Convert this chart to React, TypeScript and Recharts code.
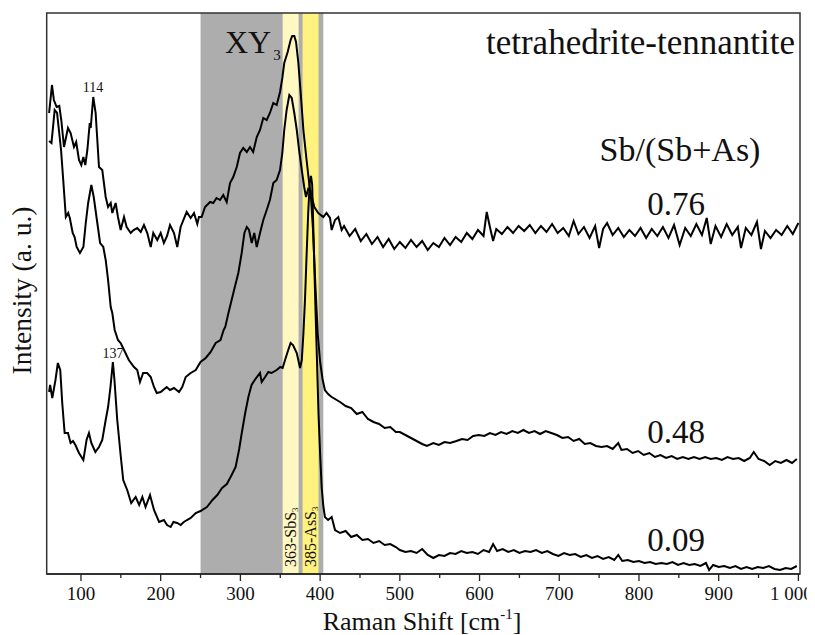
import React from 'react';
import { LineChart, Line, XAxis, YAxis, ReferenceArea } from 'recharts';

// Raman spectra, tetrahedrite-tennantite series (intensity in arbitrary units, offset stacked)
const spectrum076: [number, number][] = [
  [60, 461], [63.6, 489], [66, 474], [69.5, 467], [72.8, 468], [75.3, 454], [78.7, 427], [83.7, 446],
  [87, 441], [91.2, 427], [94, 432], [97.5, 414], [100.4, 409], [103, 417], [105.4, 409], [108, 424],
  [111, 451], [112.2, 446], [115.4, 477], [118.4, 461], [122.6, 407], [126.7, 404], [131, 377], [134, 367],
  [137.3, 371], [139.3, 361], [143.5, 371], [146.4, 357], [149.8, 344], [154, 357], [157.3, 347], [162.4, 341],
  [166, 344], [170.6, 346], [175, 342], [179, 349], [183.2, 341], [187.5, 327], [190.7, 341], [195.7, 334],
  [200, 341], [204, 331], [208, 338], [211.7, 349], [216.7, 341], [220.8, 327], [225, 347], [232.6, 362],
  [237.6, 356], [241.8, 361], [245.9, 350], [248, 357], [251.4, 357], [255.6, 367], [262, 372], [266, 371],
  [270, 376], [274.4, 374], [278.5, 379], [282.8, 372], [287, 391], [291, 397], [295.4, 407], [299.5, 421],
  [303.6, 426], [308, 422], [312, 427], [316, 422], [320.5, 437], [324.6, 444], [328.7, 456], [333, 454],
  [337, 461], [341.3, 471], [345.5, 469], [349.7, 482], [352.6, 496], [355, 511], [359.3, 522], [363, 534],
  [365, 538], [367.6, 538], [369.8, 532], [372.7, 511], [376, 477], [379, 444], [383, 414], [387.3, 384],
  [392.7, 367], [397.7, 361], [404, 357], [408, 361], [412.4, 356], [414.5, 344], [418.7, 354], [422.8, 357],
  [427, 344], [430, 348], [437, 338], [444, 345], [451, 333], [458, 340], [465, 330], [472, 337],
  [479, 327], [486, 335], [493, 325], [500, 332], [507, 326], [514, 334], [521, 327], [528, 333],
  [535, 324], [542, 331], [549, 327], [556, 336], [563, 329], [570, 337], [577, 332], [584, 341],
  [591, 335], [598, 344], [605, 338], [609, 362], [613, 347], [617, 333], [621, 345], [628, 340],
  [635, 347], [642, 341], [649, 348], [656, 343], [663, 349], [670, 341], [677, 348], [684, 342],
  [691, 350], [698, 341], [705, 346], [712, 338], [718, 353], [724, 340], [731, 347], [738, 336],
  [745, 348], [750, 326], [755, 345], [760, 351], [767, 339], [774, 346], [781, 337], [788, 344],
  [795, 338], [802, 346], [809, 336], [816, 345], [823, 338], [830, 347], [837, 336], [844, 349],
  [851, 329], [858, 346], [865, 338], [872, 350], [879, 339], [885, 356], [890, 330], [896, 348],
  [903, 337], [910, 350], [917, 339], [924, 347], [928, 326], [934, 346], [941, 339], [948, 352],
  [953, 325], [958, 343], [965, 336], [972, 344], [979, 339], [986, 348], [993, 340], [1000, 351],
];

const spectrum048: [number, number][] = [
  [60, 433], [63, 431], [67, 464], [70, 461], [75, 424], [78, 391], [81, 357], [84, 361],
  [86, 356], [89.6, 341], [92, 337], [94.6, 327], [98.7, 321], [103, 327], [106, 351], [109, 371],
  [113, 389], [116, 377], [120.5, 351], [124, 331], [128, 327], [131, 314], [134, 294], [137.3, 267],
  [139.3, 261], [142.3, 244], [146.4, 234], [149.8, 231], [154, 224], [160, 214], [166.5, 207], [170.6, 204],
  [174, 192], [178, 201], [183, 201], [187.5, 197], [191.6, 187], [195, 181], [200, 182], [207.5, 187],
  [211.7, 184], [216.7, 186], [223, 182], [227, 187], [231.4, 197], [237.6, 201], [244, 204], [250, 212],
  [256.5, 216], [262.7, 222], [269, 231], [275, 234], [279, 244], [281, 247], [285, 261], [289, 274],
  [293, 287], [297.4, 301], [301.6, 321], [305, 341], [308, 347], [310.8, 344], [314.2, 331], [317.4, 341],
  [320.5, 327], [324.6, 341], [328.7, 354], [333, 364], [337, 374], [341.3, 391], [345.5, 394], [349.7, 404],
  [352.6, 421], [355, 444], [358, 464], [361.4, 479], [364.4, 476], [367.6, 461], [370.7, 444], [373.6, 424],
  [377, 404], [380, 387], [382.3, 377], [385, 385], [388, 383], [391, 345], [394, 290], [397, 240],
  [400, 212], [403, 195], [406, 184], [410, 180], [414.5, 177], [420.8, 174], [425, 172], [432, 168],
  [439, 166], [446, 160], [453, 162], [460, 155], [467, 152], [474, 150], [481, 146], [488, 147],
  [495, 142], [500, 142], [507, 139], [514, 136], [521, 133], [528, 130], [534, 128], [542, 131],
  [549, 129], [556, 132], [563, 131], [571, 133], [578, 135], [585, 134], [592, 138], [599, 139],
  [606, 138], [613, 141], [620, 139], [627, 142], [634, 140], [641, 143], [648, 141], [655, 144],
  [662, 141], [669, 143], [676, 140], [683, 143], [690, 141], [697, 139], [704, 136], [711, 137],
  [718, 133], [725, 135], [732, 130], [739, 131], [746, 128], [753, 127], [760, 128], [767, 125],
  [774, 131], [778, 124], [785, 125], [792, 121], [799, 123], [806, 119], [813, 121], [820, 117],
  [827, 119], [834, 116], [841, 118], [848, 115], [855, 117], [862, 115], [869, 117], [876, 115],
  [883, 117], [890, 115], [897, 116], [904, 114], [911, 117], [918, 115], [925, 116], [932, 113],
  [939, 116], [944, 122], [950, 115], [957, 113], [964, 109], [971, 113], [978, 111], [985, 114],
  [992, 111], [998, 115],
];

const spectrum009: [number, number][] = [
  [60, 182], [61.3, 189], [64, 176], [68, 194], [71, 211], [74, 204], [76.5, 171], [79.5, 141],
  [83.7, 141], [87, 131], [90, 133], [93, 129], [97.5, 121], [103, 114], [107, 134], [110, 141],
  [113, 131], [118, 122], [122.6, 127], [126.7, 134], [131, 154], [134, 167], [137, 187], [140, 212],
  [142, 194], [145.5, 154], [150, 117], [153, 94], [158, 84], [163, 71], [168.6, 77], [173, 69],
  [177, 77], [181, 67], [186.6, 79], [191.6, 64], [198, 52], [204, 54], [208, 49], [212.5, 47],
  [216, 52], [220.8, 51], [225, 49], [229, 52], [233, 54], [237.6, 56], [244, 61], [250, 63],
  [258, 67], [265, 74], [271, 79], [277, 86], [283, 90], [289, 99], [294, 107], [298.5, 125],
  [301.5, 140], [306, 161], [310, 177], [314, 189], [318, 194], [324.6, 201], [326.7, 192], [331, 197],
  [335, 202], [339, 201], [345.5, 204], [350, 207], [353, 206], [356, 214], [360, 224], [363, 231],
  [366, 229], [370.7, 221], [374.8, 206], [377, 214], [379, 240], [381, 274], [383, 318], [385, 360],
  [387, 392], [388.5, 398], [390, 390], [392, 330], [394, 270], [396, 215], [398, 160], [400, 120],
  [402, 86], [404, 68], [406, 57], [410, 54], [414.5, 57], [418.7, 44], [425, 41], [432, 43],
  [439, 37], [446, 39], [453, 34], [460, 35], [467, 31], [474, 33], [481, 29], [488, 30],
  [495, 27], [500, 24], [507, 22], [514, 23], [521, 21], [528, 25], [535, 19], [542, 16],
  [549, 19], [556, 18], [563, 21], [570, 20], [577, 23], [584, 21], [591, 22], [598, 20],
  [605, 24], [612, 22], [617, 30], [622, 23], [629, 25], [636, 22], [643, 24], [650, 21],
  [657, 23], [664, 22], [671, 24], [678, 21], [685, 23], [692, 20], [699, 18], [706, 21],
  [713, 19], [720, 20], [727, 17], [734, 19], [741, 16], [748, 18], [755, 15], [762, 17],
  [769, 14], [774, 19], [779, 13], [786, 14], [793, 12], [800, 13], [807, 11], [814, 12],
  [821, 10], [828, 11], [835, 10], [842, 12], [849, 9], [856, 11], [863, 9], [870, 10],
  [877, 8], [884, 11], [888, 4], [893, 9], [900, 7], [907, 8], [914, 6], [921, 8],
  [928, 5], [935, 7], [942, 5], [949, 7], [956, 6], [963, 8], [970, 5], [977, 4],
  [984, 6], [991, 5], [998, 8],
];

const xTicks = [100, 150, 200, 250, 300, 350, 400, 450, 500, 550, 600, 650, 700, 750, 800, 850, 900, 950, 1000];
const xTickLabels: Record<number, string> = {
  100: '100', 200: '200', 300: '300', 400: '400', 500: '500',
  600: '600', 700: '700', 800: '800', 900: '900', 1000: '1 000',
};

// shaded bands: [from, to, colour]
const bands: [number, number, string][] = [
  [250, 404, '#adadad'],
  [353, 373, '#fff8c2'],
  [378, 398, '#fff27e'],
];

const toPoints = (s: [number, number][]) => s.map(([x, y]) => ({ x, y }));

const FONT = "'Liberation Serif', 'Times New Roman', 'DejaVu Serif', serif";

const AxisTick = (props: any) => {
  const { x, y, payload } = props;
  const label = xTickLabels[payload.value];
  // last label sits pulled in from the frame edge
  const dx = payload.value === 1000 ? -7 : 0;
  return (
    <g>
      <line x1={x} x2={x} y1={y} y2={y + (label ? 7 : 4)} stroke="#222" strokeWidth={1.3} />
      {label && (
        <text x={x + dx} y={y + 26} textAnchor="middle" fontSize={19} style={{ fontFamily: FONT }} fill="#111">
          {label}
        </text>
      )}
    </g>
  );
};

export default function App() {
  return (
    <div style={{ position: 'relative', width: 807, height: 627 }}>
      <LineChart width={807} height={627} margin={{ top: 5, right: 15, bottom: 0, left: 38.7 }}>
        <XAxis
          dataKey="x"
          type="number"
          domain={[57, 1002]}
          allowDataOverflow
          ticks={xTicks}
          interval={0}
          height={61}
          tickSize={0}
          tickMargin={0}
          tickLine={false}
          tick={<AxisTick />}
          axisLine={{ stroke: '#222', strokeWidth: 1.5 }}
        />
        <YAxis dataKey="y" type="number" domain={[0, 561]} hide allowDataOverflow />
        {bands.map(([a, b, c]) => (
          <ReferenceArea key={a} x1={a} x2={b} y1={0} y2={561} fill={c} fillOpacity={1} stroke="none" />
        ))}
        <Line data={toPoints(spectrum076)} dataKey="y" stroke="#000" strokeWidth={2} dot={false} isAnimationActive={false} />
        <Line data={toPoints(spectrum048)} dataKey="y" stroke="#000" strokeWidth={2} dot={false} isAnimationActive={false} />
        <Line data={toPoints(spectrum009)} dataKey="y" stroke="#000" strokeWidth={2} dot={false} isAnimationActive={false} />
        <ReferenceArea x1={57} x2={1002} y1={0} y2={561} fill="none" stroke="#333" strokeWidth={1.5} />
      </LineChart>
      <svg width={807} height={627} style={{ position: 'absolute', left: 0, top: 0, pointerEvents: 'none', overflow: 'visible' }}>
        <g style={{ fontFamily: FONT }} fill="#111">
          <text x={787} y={46} textAnchor="end" fontSize={35}>tetrahedrite-tennantite</text>
          <text x={672} y={153} textAnchor="middle" fontSize={34}>Sb/(Sb+As)</text>
          <text x={668} y={207} textAnchor="middle" fontSize={33}>0.76</text>
          <text x={668} y={435} textAnchor="middle" fontSize={33}>0.48</text>
          <text x={668} y={543} textAnchor="middle" fontSize={33}>0.09</text>
          <text x={217} y={45} fontSize={32}>
            XY<tspan fontSize={15} dx={2} dy={7}>3</tspan>
          </text>
          <text x={85} y={84} textAnchor="middle" fontSize={14}>114</text>
          <text x={105} y={350} textAnchor="middle" fontSize={14}>137</text>
          <text transform="translate(282.5, 559) rotate(-90)" dominantBaseline="central" fontSize={16}>
            363-SbS<tspan fontSize={9} dy={4}>3</tspan>
          </text>
          <text transform="translate(302.5, 559) rotate(-90)" dominantBaseline="central" fontSize={16}>
            385-AsS<tspan fontSize={9} dy={4}>3</tspan>
          </text>
          <text transform="translate(13, 282.5) rotate(-90)" textAnchor="middle" dominantBaseline="central" fontSize={27.5}>
            Intensity (a. u.)
          </text>
          <text x={314.7} y={622} fontSize={26}>
            Raman Shift [cm<tspan fontSize={15} dy={-11}>-1</tspan><tspan dy={11}>]</tspan>
          </text>
        </g>
      </svg>
    </div>
  );
}
